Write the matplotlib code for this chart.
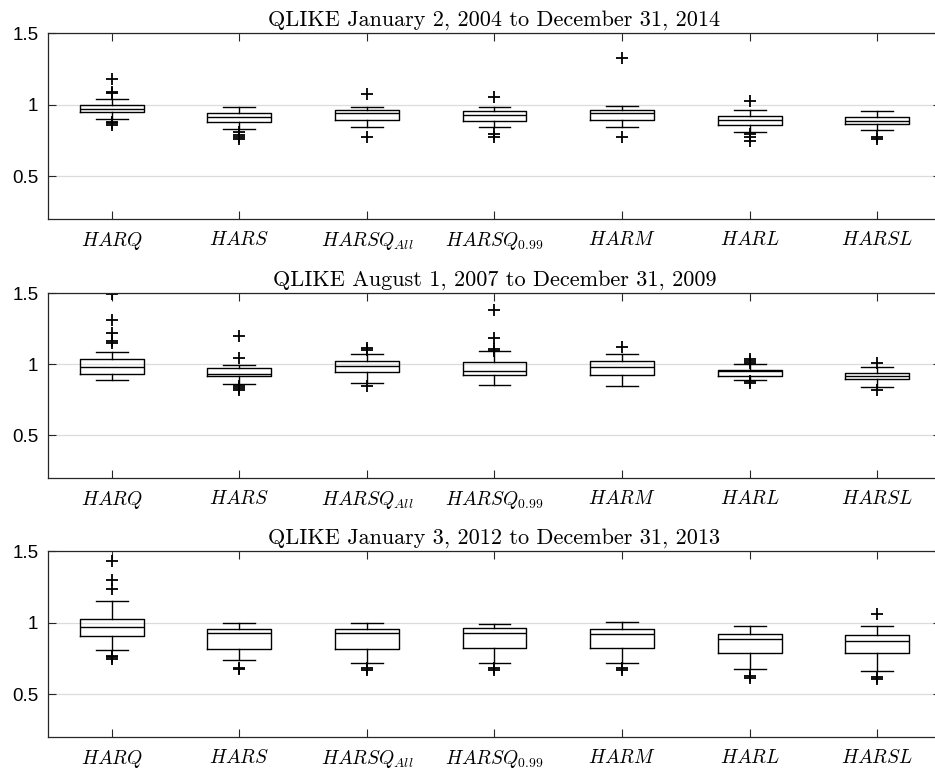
import matplotlib
matplotlib.use("Agg")
import matplotlib.pyplot as plt

plt.rcParams['mathtext.fontset'] = 'cm'

models = ['$HARQ$', '$HARS$', '$HARSQ_{All}$', '$HARSQ_{0.99}$', '$HARM$', '$HARL$', '$HARSL$']

titles = ['QLIKE January 2, 2004 to December 31, 2014',
          'QLIKE August 1, 2007 to December 31, 2009',
          'QLIKE January 3, 2012 to December 31, 2013']

# Panel 1 box statistics: whislo, q1, med, q3, whishi, fliers
p1_whislo = [0.902, 0.828, 0.846, 0.844, 0.846, 0.809, 0.820]
p1_q1     = [0.949, 0.879, 0.893, 0.886, 0.895, 0.858, 0.862]
p1_med    = [0.967, 0.911, 0.942, 0.928, 0.942, 0.890, 0.888]
p1_q3     = [0.998, 0.944, 0.960, 0.958, 0.960, 0.918, 0.911]
p1_whishi = [1.040, 0.981, 0.986, 0.984, 0.988, 0.965, 0.953]
p1_fliers = [[1.18, 1.085, 1.078, 0.88, 0.87, 0.86],
             [0.81, 0.79, 0.775, 0.76],
             [1.075, 0.776],
             [1.051, 0.797, 0.774],
             [1.327, 0.774],
             [1.026, 0.793, 0.776, 0.748],
             [0.776, 0.758]]

# Panel 2
p2_whislo = [0.886, 0.860, 0.869, 0.852, 0.848, 0.886, 0.838]
p2_q1     = [0.929, 0.914, 0.943, 0.924, 0.926, 0.919, 0.893]
p2_med    = [0.981, 0.933, 0.988, 0.952, 0.979, 0.950, 0.914]
p2_q3     = [1.038, 0.974, 1.021, 1.012, 1.019, 0.957, 0.940]
p2_whishi = [1.086, 0.995, 1.074, 1.090, 1.071, 0.998, 0.981]
p2_fliers = [[1.495, 1.31, 1.221, 1.16, 1.15],
             [1.20, 1.043, 0.843, 0.831, 0.819],
             [1.117, 1.098, 0.843],
             [1.383, 1.183, 1.105, 1.095],
             [1.121],
             [1.036, 1.02, 1.01, 0.88, 0.87],
             [1.007, 0.821]]

# Panel 3
p3_whislo = [0.808, 0.735, 0.716, 0.716, 0.720, 0.674, 0.662]
p3_q1     = [0.906, 0.815, 0.817, 0.819, 0.819, 0.786, 0.784]
p3_med    = [0.967, 0.925, 0.927, 0.925, 0.920, 0.883, 0.871]
p3_q3     = [1.028, 0.953, 0.955, 0.960, 0.953, 0.918, 0.915]
p3_whishi = [1.150, 0.998, 1.000, 0.993, 1.005, 0.979, 0.979]
p3_fliers = [[1.427, 1.30, 1.237, 0.768, 0.756, 0.742],
             [0.680, 0.672],
             [0.685, 0.671],
             [0.683, 0.667],
             [0.683, 0.667],
             [0.624, 0.615],
             [1.063, 0.620, 0.608]]

panels = [
    (p1_whislo, p1_q1, p1_med, p1_q3, p1_whishi, p1_fliers),
    (p2_whislo, p2_q1, p2_med, p2_q3, p2_whishi, p2_fliers),
    (p3_whislo, p3_q1, p3_med, p3_q3, p3_whishi, p3_fliers),
]

W, H = 935, 769
fig = plt.figure(figsize=(W / 100, H / 100), dpi=100)

# axes pixel boxes (left, top, right, bottom)
boxes_px = [(48, 33, 941, 219), (48, 293, 941, 478), (48, 551, 941, 737)]

spine_col = '#262626'
for (l, t, r, b), title, (wl, q1, med, q3, wh, fl) in zip(boxes_px, titles, panels):
    ax = fig.add_axes([l / W, 1 - b / H, (r - l) / W, (b - t) / H])
    stats = []
    for i in range(len(models)):
        stats.append(dict(whislo=wl[i], q1=q1[i], med=med[i], q3=q3[i],
                          whishi=wh[i], fliers=fl[i]))
    lw = 1.0
    ax.bxp(stats, positions=range(1, len(models) + 1), widths=0.5,
           capwidths=0.25, showfliers=True,
           boxprops=dict(color='black', linewidth=lw),
           medianprops=dict(color='black', linewidth=lw),
           whiskerprops=dict(color='black', linewidth=lw, linestyle='-'),
           capprops=dict(color='black', linewidth=lw),
           flierprops=dict(marker='+', markeredgecolor='black',
                           markersize=9, markeredgewidth=1.3, linestyle='none'))
    ax.set_xlim(0.5, len(models) + 0.5)
    ax.set_ylim(0.2, 1.5)
    ax.set_yticks([0.5, 1.0, 1.5])
    ax.set_yticklabels(['0.5', '1', '1.5'], fontfamily='Liberation Sans', fontsize=13.5)
    ax.set_xticks(range(1, len(models) + 1))
    ax.set_xticklabels(models, fontsize=14)
    ax.tick_params(axis='both', direction='in', length=6, width=0.8,
                   color=spine_col, top=True, right=True)
    ax.tick_params(axis='x', pad=8)
    ax.tick_params(axis='y', pad=7)
    ax.yaxis.grid(True, color='#dcdcdc', linewidth=0.9)
    ax.set_axisbelow(True)
    for s in ax.spines.values():
        s.set_color(spine_col)
        s.set_linewidth(0.9)
    ax.set_title(title, fontfamily='cmr10', fontsize=16, pad=5)

fig.savefig('out.png', dpi=100)
